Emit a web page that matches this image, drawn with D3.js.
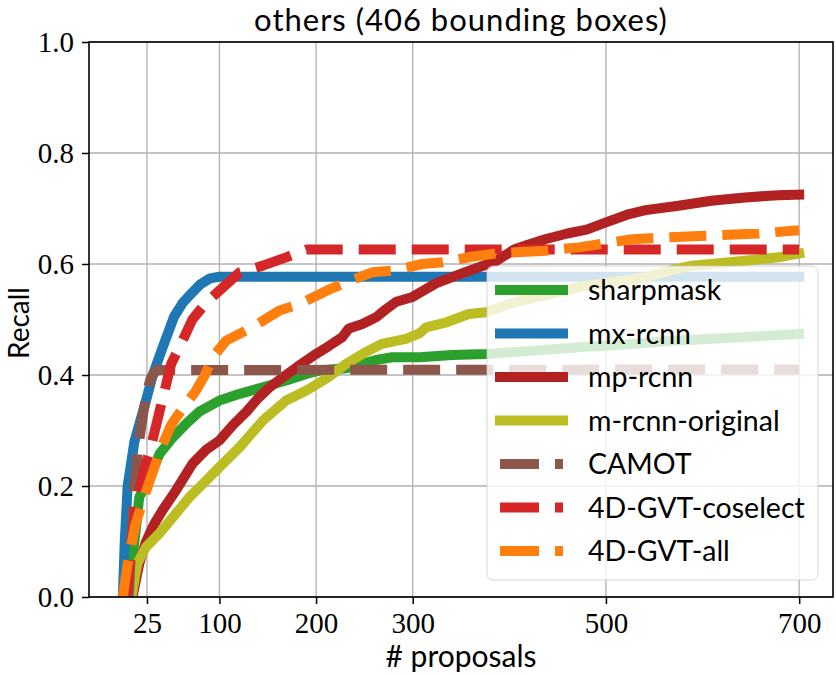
<!DOCTYPE html>
<meta charset="utf-8">
<style>
  body { margin: 0; background: #fff; }
  .grid line { stroke: #b0b0b0; stroke-width: 1.3px; }
  .tick-label { font-family: "Liberation Serif", serif; font-size: 29px; fill: #000; }
  .sans { font-family: "Lato", sans-serif; fill: #000; }
</style>
<body>
<div id="chart"></div>
<script src="https://d3js.org/d3.v7.min.js"></script>
<script>
// tick values
var xTicks = [25, 100, 200, 300, 500, 700];
var yTicks = [0.0, 0.2, 0.4, 0.6, 0.8, 1.0];

// series: [# proposals, recall]
var sharpmask = [[5,0],[8,0.05],[10,0.07],[14,0.13],[17,0.18],[28,0.216],[38,0.258],[52,0.288],[66,0.313],[80,0.335],
  [100,0.354],[121,0.366],[145,0.378],[169,0.39],[190,0.402],[203,0.408],[231,0.412],[248,0.42],[262,0.427],[279,0.432],
  [307,0.432],[341,0.436],[376,0.438],[420,0.443],[472,0.45],[520,0.455],[575,0.462],[640,0.468],[700,0.474]];
var mxRcnn = [[0,0],[2,0.1],[5,0.2],[12,0.28],[24,0.354],[31,0.40],[40,0.444],[53,0.505],[62,0.53],[71,0.547],
  [80,0.563],[90,0.574],[100,0.577],[700,0.577]];
var mpRcnn = [[10,0],[17,0.06],[24,0.10],[32,0.13],[41,0.156],[55,0.192],[72,0.24],[86,0.265],[100,0.282],[114,0.31],
  [128,0.334],[140,0.358],[152,0.378],[165,0.395],[180,0.414],[200,0.438],[213,0.452],[227,0.468],[234,0.484],[248,0.492],
  [262,0.504],[272,0.518],[283,0.532],[299,0.54],[324,0.565],[351,0.583],[370,0.595],[386,0.605],[405,0.626],[420,0.635],
  [438,0.645],[460,0.655],[480,0.662],[500,0.675],[524,0.69],[541,0.697],[575,0.705],[609,0.714],[644,0.72],[678,0.724],[700,0.725]];
var mRcnnOriginal = [[9,0],[15,0.06],[24,0.09],[38,0.115],[52,0.144],[69,0.18],[83,0.204],[100,0.234],[121,0.27],[145,0.318],
  [169,0.354],[190,0.372],[211,0.394],[231,0.42],[248,0.438],[268,0.456],[293,0.465],[307,0.475],[314,0.486],[335,0.495],
  [358,0.51],[376,0.513],[403,0.53],[440,0.545],[472,0.558],[510,0.568],[541,0.576],[570,0.59],[589,0.597],[644,0.606],
  [678,0.612],[700,0.619]];
var camot = [[6,0],[9,0.1],[12,0.2],[16,0.27],[21,0.33],[25,0.37],[29,0.395],[35,0.409],[700,0.41]];
var gvtCoselect = [[4,0],[8,0.08],[13,0.16],[22,0.23],[29,0.27],[36,0.32],[43,0.37],[50,0.42],[60,0.455],[72,0.50],
  [86,0.53],[105,0.56],[121,0.585],[145,0.597],[169,0.612],[190,0.626],[700,0.626]];
var gvtAll = [[0,0],[5,0.06],[13,0.13],[22,0.18],[30,0.22],[40,0.27],[50,0.31],[62,0.34],[75,0.37],[85,0.40],[93,0.432],
  [107,0.462],[134,0.486],[162,0.516],[183,0.528],[211,0.552],[231,0.567],[258,0.585],[279,0.588],[310,0.60],[331,0.603],
  [361,0.613],[386,0.619],[438,0.624],[472,0.63],[506,0.639],[524,0.644],[562,0.648],[617,0.652],[658,0.655],[700,0.661]];

var seriesNames = ["sharpmask", "mx-rcnn", "mp-rcnn", "m-rcnn-original", "CAMOT", "4D-GVT-coselect", "4D-GVT-all"];
var seriesData = [sharpmask, mxRcnn, mpRcnn, mRcnnOriginal, camot, gvtCoselect, gvtAll];
var seriesColors = ["#2ca02c", "#1f77b4", "#b22222", "#bcbd22", "#8c564b", "#d62728", "#ff7f0e"];
var seriesDashed = [false, false, false, false, true, true, true];

var W = 836, H = 675;
var margin = { top: 42, right: 3, bottom: 78, left: 89 };
var width = W - margin.left - margin.right;
var height = H - margin.top - margin.bottom;

var svg = d3.select("#chart").append("svg")
  .attr("width", W).attr("height", H);
var g = svg.append("g")
  .attr("transform", "translate(" + margin.left + "," + margin.top + ")");

var x = d3.scaleLinear().domain([-35, 735]).range([0, width]);
var y = d3.scaleLinear().domain([0, 1]).range([height, 0]);

// grid
g.append("g").attr("class", "grid")
  .selectAll("line").data(xTicks).join("line")
  .attr("x1", d => x(d)).attr("x2", d => x(d)).attr("y1", 0).attr("y2", height);
g.append("g").attr("class", "grid")
  .selectAll("line").data(yTicks).join("line")
  .attr("y1", d => y(d)).attr("y2", d => y(d)).attr("x1", 0).attr("x2", width);

g.append("defs").append("clipPath").attr("id", "clip")
  .append("rect").attr("width", width).attr("height", height);

var line = d3.line().x(d => x(d[0])).y(d => y(d[1]));

var lines = g.append("g").attr("clip-path", "url(#clip)");
seriesData.forEach(function (data, i) {
  lines.append("path")
    .datum(data)
    .attr("d", line)
    .attr("fill", "none")
    .attr("stroke", seriesColors[i])
    .attr("stroke-width", 10)
    .attr("stroke-linejoin", "round")
    .attr("stroke-linecap", seriesDashed[i] ? "butt" : "square")
    .attr("stroke-dasharray", seriesDashed[i] ? "37,16" : null);
});

// axes
var xAxis = g.append("g")
  .attr("transform", "translate(0," + height + ")")
  .call(d3.axisBottom(x).tickValues(xTicks).tickSize(7).tickPadding(8));
var yAxis = g.append("g")
  .call(d3.axisLeft(y).tickValues(yTicks).tickSize(7).tickPadding(8).tickFormat(d3.format(".1f")));
[xAxis, yAxis].forEach(function (a) {
  a.select(".domain").remove();
  a.selectAll(".tick line").attr("stroke", "#000").attr("stroke-width", 1.5);
  a.selectAll(".tick text").attr("class", "tick-label").attr("font-size", null).attr("font-family", null);
});
xAxis.selectAll(".tick text").attr("dy", "0.71em");

// frame
g.append("rect").attr("width", width).attr("height", height)
  .attr("fill", "none").attr("stroke", "#000").attr("stroke-width", 1.6);

// title and labels
svg.append("text").attr("class", "sans")
  .attr("x", margin.left + width / 2).attr("y", 31)
  .attr("text-anchor", "middle").attr("font-size", 31)
  .attr("letter-spacing", 1)
  .text("others (406 bounding boxes)");
svg.append("text").attr("class", "sans")
  .attr("x", margin.left + width / 2).attr("y", 667)
  .attr("text-anchor", "middle").attr("font-size", 30)
  .text("# proposals");
svg.append("text").attr("class", "sans")
  .attr("transform", "translate(29,323) rotate(-90)")
  .attr("text-anchor", "middle").attr("font-size", 28)
  .text("Recall");

// legend
var legend = svg.append("g").attr("transform", "translate(487,266)");
legend.append("rect")
  .attr("width", 331).attr("height", 314).attr("rx", 6)
  .attr("fill", "#fff").attr("fill-opacity", 0.8)
  .attr("stroke", "#ccc").attr("stroke-opacity", 0.8).attr("stroke-width", 1);
seriesNames.forEach(function (name, i) {
  var cy = 24 + i * 43.5;
  legend.append("line")
    .attr("x1", 13).attr("x2", 76).attr("y1", cy).attr("y2", cy)
    .attr("stroke", seriesColors[i]).attr("stroke-width", 10)
    .attr("stroke-linecap", seriesDashed[i] ? "butt" : "square")
    .attr("stroke-dasharray", seriesDashed[i] ? "39,16" : null);
  legend.append("text").attr("class", "sans")
    .attr("x", 101).attr("y", cy + 10).attr("font-size", 28.5)
    .text(name);
});
</script>
</body>
